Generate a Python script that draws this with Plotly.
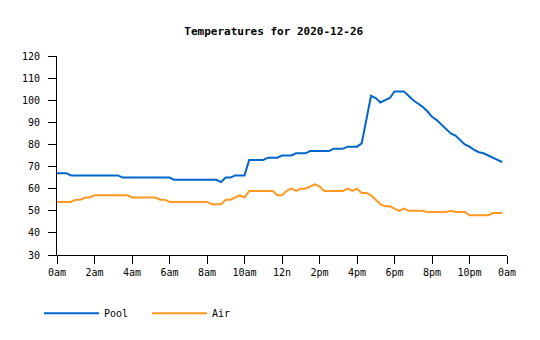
import plotly.graph_objects as go

# time in hours, 15-minute samples
hours = [i * 0.25 for i in range(96)]

pool = [
    67, 67, 67, 66,   66, 66, 66, 66,   66, 66, 66, 66,   66, 66, 65, 65,
    65, 65, 65, 65,   65, 65, 65, 65,   65, 64, 64, 64,   64, 64, 64, 64,
    64, 64, 64, 63,   65, 65, 66, 66,   66, 73, 73, 73,   73, 74, 74, 74,
    75, 75, 75, 76,   76, 76, 77, 77,   77, 77, 77, 78,   78, 78, 79, 79,
    79, 80.5, 92, 102, 101, 99, 100, 101, 104, 104, 104, 102, 100, 98.5, 97, 95,
    92.5, 91, 89, 87,  85, 84, 82, 80,  79, 77.5, 76.5, 76, 75, 74, 73, 72,
]

air = [
    54, 54, 54, 54,   55, 55, 56, 56,   57, 57, 57, 57,   57, 57, 57, 57,
    56, 56, 56, 56,   56, 56, 55, 55,   54, 54, 54, 54,   54, 54, 54, 54,
    54, 53, 53, 53,   55, 55, 56, 57,   56, 59, 59, 59,   59, 59, 59, 57,
    57, 59, 60, 59,   60, 60, 61, 62,   61, 59, 59, 59,   59, 59, 60, 59,
    60, 58, 58, 57,   55, 53, 52, 52,   51, 50, 51, 50,   50, 50, 50, 49.5,
    49.5, 49.5, 49.5, 49.5, 50, 49.5, 49.5, 49.5, 48, 48, 48, 48, 48, 49, 49, 49,
]

tick_vals = [0, 2, 4, 6, 8, 10, 12, 14, 16, 18, 20, 22, 24]
tick_text = ["0am", "2am", "4am", "6am", "8am", "10am", "12n",
             "2pm", "4pm", "6pm", "8pm", "10pm", "0am"]

FONT = "DejaVu Sans Mono"

fig = go.Figure()
fig.add_trace(go.Scatter(x=hours, y=pool, mode="lines", name="Pool",
                         line=dict(color="#0066CC", width=2)))
fig.add_trace(go.Scatter(x=hours, y=air, mode="lines", name="Air",
                         line=dict(color="#FF9922", width=2)))

fig.update_layout(
    width=540, height=340,
    margin=dict(l=57, r=33, t=56, b=83),
    paper_bgcolor="white", plot_bgcolor="white",
    font=dict(family=FONT, size=10, color="black"),
    title=dict(text="<b>Temperatures for 2020-12-26</b>", x=0.507, xanchor="center",
               y=0.909, yanchor="middle", font=dict(family=FONT, size=11, color="black")),
    showlegend=True,
    legend=dict(orientation="h", x=-0.04, xanchor="left", y=-0.22, yanchor="top",
                font=dict(family=FONT, size=10), itemwidth=55,
                entrywidth=38, entrywidthmode="pixels"),
)
fig.update_xaxes(range=[0, 24], tickvals=tick_vals, ticktext=tick_text,
                 showline=True, linecolor="black", linewidth=1,
                 ticks="outside", ticklen=8, tickcolor="black",
                 showgrid=False, zeroline=False)
fig.update_yaxes(range=[30, 120], dtick=10, tick0=0,
                 showline=True, linecolor="black", linewidth=1,
                 ticks="outside", ticklen=8, tickcolor="black",
                 showgrid=False, zeroline=False, ticklabelstandoff=6)

fig.write_html("out.html")
